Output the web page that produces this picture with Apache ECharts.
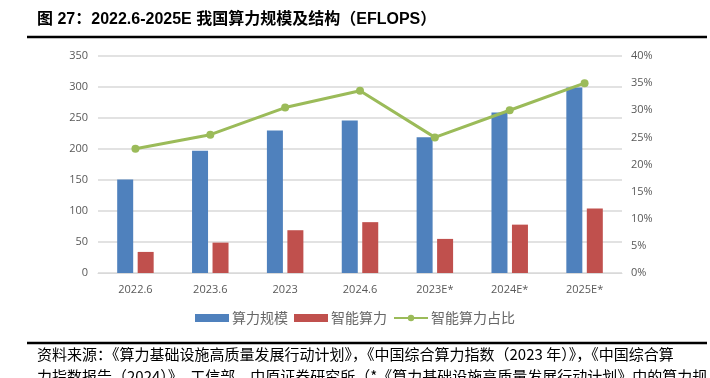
<!DOCTYPE html>
<html><head><meta charset="utf-8">
<script src="https://cdn.jsdelivr.net/npm/echarts@6/dist/echarts.min.js"></script>
<style>html,body{margin:0;padding:0;background:#fff}#c{width:710px;height:378px}</style>
</head><body><div id="c"></div>
<script>
var categories = ['2022.6','2023.6','2023','2024.6','2023E*','2024E*','2025E*'];
var totalCompute = [151, 197, 230, 246, 219, 259, 299];
var aiCompute = [34, 49, 69, 82, 55, 78, 104];
var aiShare = [22.9, 25.5, 30.5, 33.6, 25.0, 30.0, 35.0];
var leftTicks = {min: 0, max: 350, interval: 50};
var rightTicks = {min: 0, max: 40, interval: 5};
var titleText = '图 27：2022.6-2025E 我国算力规模及结构（EFLOPS）';
var sourceLine1 = '资料来源：《算力基础设施高质量发展行动计划》，《中国综合算力指数（2023 年）》，《中国综合算';
var sourceLine2 = '力指数报告（2024）》，工信部，中原证券研究所（*《算力基础设施高质量发展行动计划》中的算力规';

var chart = echarts.init(document.getElementById('c'), null, {renderer: 'canvas'});
var axisLabelStyle = {color: '#595959', fontSize: 11, fontFamily: 'Open Sans, DejaVu Sans, sans-serif'};
chart.setOption({
  animation: false,
  backgroundColor: '#fff',
  grid: {left: 98, right: 88, top: 56, bottom: 105, containLabel: false},
  graphic: [
    {type: 'text', left: 37, top: 12, style: {text: titleText, fill: '#000', font: 'bold 16px "Liberation Sans", "Noto Sans CJK SC", sans-serif'}},
    {type: 'line', shape: {x1: 27, y1: 37, x2: 707, y2: 37}, style: {stroke: '#000', lineWidth: 2.5}},
    {type: 'line', shape: {x1: 27, y1: 343, x2: 707, y2: 343}, style: {stroke: '#000', lineWidth: 2.5}},
    {type: 'text', left: 37, top: 347, style: {text: sourceLine1, fill: '#000', font: '15px "Noto Sans CJK SC", sans-serif'}},
    {type: 'text', left: 37, top: 369, style: {text: sourceLine2, fill: '#000', font: '15px "Noto Sans CJK SC", sans-serif'}}
  ],
  legend: {
    bottom: 48, left: 'center', itemWidth: 34, itemHeight: 8, itemGap: 6,
    textStyle: {color: '#666666', fontSize: 14, fontFamily: '"Noto Sans CJK SC", sans-serif', padding: [0, 0, 0, -2]},
    data: [
      {name: '算力规模', icon: 'rect'},
      {name: '智能算力', icon: 'rect'},
      {name: '智能算力占比'}
    ]
  },
  xAxis: {
    type: 'category', data: categories,
    axisLine: {lineStyle: {color: '#d9d9d9', width: 1}},
    axisTick: {show: false},
    axisLabel: Object.assign({margin: 11}, axisLabelStyle)
  },
  yAxis: [
    {type: 'value', min: leftTicks.min, max: leftTicks.max, interval: leftTicks.interval,
     axisLine: {show: false}, axisTick: {show: false},
     splitLine: {lineStyle: {color: '#d9d9d9', width: 1.5}},
     axisLabel: Object.assign({margin: 10}, axisLabelStyle)},
    {type: 'value', min: rightTicks.min, max: rightTicks.max, interval: rightTicks.interval,
     axisLine: {show: false}, axisTick: {show: false}, splitLine: {show: false},
     axisLabel: Object.assign({margin: 9, formatter: '{value}%'}, axisLabelStyle)}
  ],
  series: [
    {name: '算力规模', type: 'bar', data: totalCompute, barWidth: 16, barGap: '28%',
     itemStyle: {color: '#4f81bd'}},
    {name: '智能算力', type: 'bar', data: aiCompute, barWidth: 16,
     itemStyle: {color: '#c0504d'}},
    {name: '智能算力占比', type: 'line', yAxisIndex: 1, data: aiShare,
     symbol: 'circle', symbolSize: 8,
     lineStyle: {color: '#9bbb59', width: 3}, itemStyle: {color: '#9bbb59'}}
  ]
});
</script></body></html>
